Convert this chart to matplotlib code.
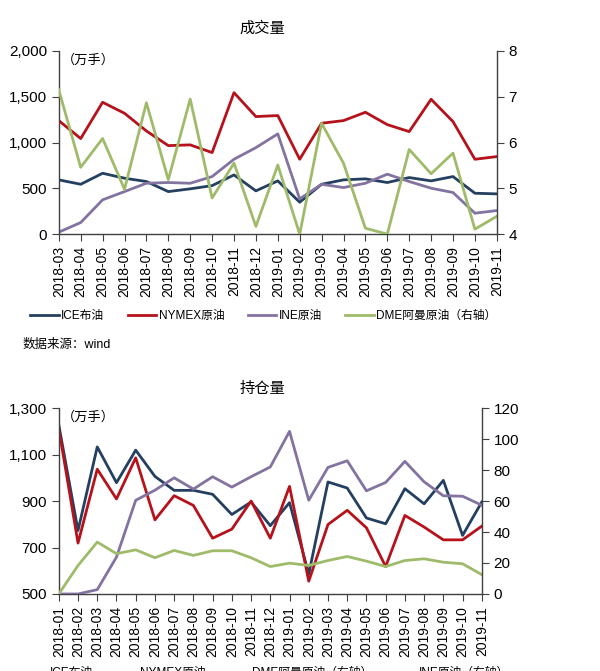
import numpy as np
import matplotlib
matplotlib.use('Agg')
import matplotlib.pyplot as plt
from matplotlib.lines import Line2D

plt.rcParams['font.family'] = ['Liberation Sans', 'Noto Sans CJK SC']
plt.rcParams['axes.unicode_minus'] = False

# 成交量 (2018-03 .. 2019-11)
months_vol = ['2018-03', '2018-04', '2018-05', '2018-06', '2018-07', '2018-08', '2018-09',
              '2018-10', '2018-11', '2018-12', '2019-01', '2019-02', '2019-03', '2019-04',
              '2019-05', '2019-06', '2019-07', '2019-08', '2019-09', '2019-10', '2019-11']
ice_vol = [593, 545, 665, 611, 575, 465, 495, 530, 647, 473, 582, 349, 545, 593,
           604, 564, 618, 582, 629, 447, 440]
nymex_vol = [1240, 1044, 1440, 1320, 1127, 967, 975, 891, 1545, 1284, 1295, 818, 1211, 1240,
             1331, 1196, 1120, 1473, 1229, 818, 847]
ine_vol = [22, 127, 375, 465, 556, 564, 556, 629, 818, 945, 1095, 385, 545, 509,
           556, 655, 575, 502, 455, 229, 258]
dme_vol = [7.15, 5.46, 6.09, 4.98, 6.87, 5.19, 6.95, 4.79, 5.55, 4.17, 5.51, 4.0, 6.42, 5.55,
           4.13, 4.0, 5.85, 5.32, 5.77, 4.11, 4.39]

# 持仓量 (2018-01 .. 2019-11)
months_oi = ['2018-01', '2018-02'] + months_vol
ice_oi = [1227, 773, 1133, 979, 1119, 1006, 946, 946, 929, 842, 896, 794, 893, 586,
          982, 956, 827, 802, 953, 888, 989, 752, 896]
nymex_oi = [1212, 719, 1037, 909, 1086, 819, 923, 881, 740, 779, 900, 740, 963, 555,
            799, 860, 785, 618, 838, 788, 733, 733, 792]
ine_oi = [0, 0, 2.8, 23.8, 60.5, 67, 75, 67.7, 75.7, 69, 75.7, 82, 105, 60.5,
          81.7, 86, 66.6, 72, 85.6, 72.4, 63.4, 63.1, 57.3]
dme_oi = [0, 18.4, 33.5, 26, 28.5, 23.4, 28.1, 24.9, 27.9, 27.9, 23.4, 17.7, 19.9, 18.4,
          21.6, 24.2, 21.2, 17.7, 21.6, 22.7, 20.5, 19.5, 12.5]

c_ice = '#243f60'
c_nym = '#b5121b'
c_ine = '#8373a0'
c_dme = '#9fbb6a'
lw = 2.0


def style(ax, ax2, labels):
    for a in (ax, ax2):
        a.spines['top'].set_visible(False)
        for s in a.spines.values():
            s.set_color('#404040')
            s.set_linewidth(1.0)
    ax.spines['right'].set_visible(False)
    ax2.spines['left'].set_visible(False)
    ax2.spines['bottom'].set_visible(False)
    ax.set_xticks(np.arange(len(labels)))
    ax.set_xticklabels(labels, rotation=90, fontsize=10)
    ax.set_xlim(0, len(labels) - 1)
    ax.tick_params(axis='both', direction='out', length=5, color='#404040', labelsize=11)
    ax.tick_params(axis='x', labelsize=10)
    ax2.tick_params(axis='y', direction='out', length=5, color='#404040', labelsize=11)
    ax.text(0.008, 0.985, '（万手）', transform=ax.transAxes, fontsize=9.5, va='top', ha='left')


fig = plt.figure(figsize=(6, 6.71), dpi=100)

# top chart
ax = fig.add_axes([0.098, 0.651, 0.73, 0.273])
ax2 = ax.twinx()
x = np.arange(len(months_vol))
ax.plot(x, ice_vol, color=c_ice, lw=lw)
ax.plot(x, nymex_vol, color=c_nym, lw=lw)
ax.plot(x, ine_vol, color=c_ine, lw=lw)
ax2.plot(x, dme_vol, color=c_dme, lw=lw)
ax.set_ylim(0, 2000)
ax.set_yticks([0, 500, 1000, 1500, 2000])
ax.set_yticklabels(['0', '500', '1,000', '1,500', '2,000'])
ax2.set_ylim(4, 8)
ax2.set_yticks([4, 5, 6, 7, 8])
style(ax, ax2, months_vol)
fig.text(0.438, 0.958, '成交量', fontsize=11, ha='center', va='center')

h1 = [Line2D([], [], color=c_ice, lw=lw), Line2D([], [], color=c_nym, lw=lw),
      Line2D([], [], color=c_ine, lw=lw), Line2D([], [], color=c_dme, lw=lw)]
fig.legend(h1, ['ICE布油', 'NYMEX原油', 'INE原油', 'DME阿曼原油（右轴）'],
           loc='center', bbox_to_anchor=(0.439, 1 - 316 / 671), ncol=4, frameon=False,
           fontsize=8.5, handlelength=2.4, handletextpad=0.2, columnspacing=2.0)
fig.text(0.037, 1 - 345 / 671, '数据来源：wind', fontsize=9, ha='left', va='center')

# bottom chart
bx = fig.add_axes([0.098, 0.1148, 0.705, 0.277])
bx2 = bx.twinx()
x = np.arange(len(months_oi))
bx.plot(x, ice_oi, color=c_ice, lw=lw)
bx.plot(x, nymex_oi, color=c_nym, lw=lw)
bx2.plot(x, ine_oi, color=c_ine, lw=lw)
bx2.plot(x, dme_oi, color=c_dme, lw=lw)
bx.set_ylim(500, 1300)
bx.set_yticks([500, 700, 900, 1100, 1300])
bx.set_yticklabels(['500', '700', '900', '1,100', '1,300'])
bx2.set_ylim(0, 120)
bx2.set_yticks([0, 20, 40, 60, 80, 100, 120])
style(bx, bx2, months_oi)
fig.text(0.438, 1 - 389 / 671, '持仓量', fontsize=11, ha='center', va='center')

h2 = [Line2D([], [], color=c_ice, lw=lw), Line2D([], [], color=c_nym, lw=lw),
      Line2D([], [], color=c_dme, lw=lw), Line2D([], [], color=c_ine, lw=lw)]
fig.legend(h2, ['ICE布油', 'NYMEX原油', 'DME阿曼原油（右轴）', 'INE原油（右轴）'],
           loc='center', bbox_to_anchor=(0.441, 1 - 673 / 671), ncol=4, frameon=False,
           fontsize=8.5, handlelength=2.4, handletextpad=0.2, columnspacing=1.35)

fig.savefig('out.png', dpi=100)
